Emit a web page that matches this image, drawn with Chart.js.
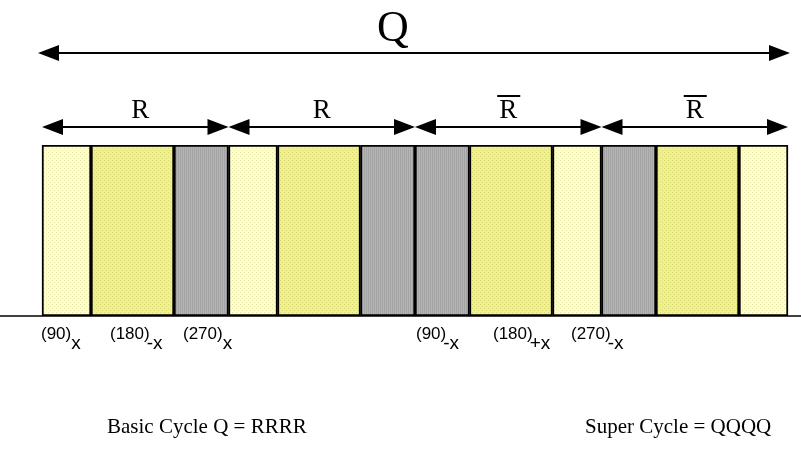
<!DOCTYPE html>
<html>
<head>
<meta charset="utf-8">
<script src="https://cdn.jsdelivr.net/npm/chart.js@4.4.0/dist/chart.umd.min.js"></script>
<style>
  html, body { margin: 0; padding: 0; background: #fff; }
  #wrap { width: 801px; height: 465px; }
</style>
</head>
<body>
<div id="wrap"><canvas id="chart"></canvas></div>
<script>
// pulse kinds and their lengths (in px-ish units)
const pulseKinds = ['90', '180', '270'];
const pulseLengths = [49, 83, 54.5];
const pulseColors = ['#ffffcc', '#f0f08c', '#b4b4b4'];

// the four blocks of the basic cycle, each a list of pulse kinds
const blockNames = ['R', 'R', 'R', 'R'];
const blockBar = [false, false, true, true];
const blockOrder = [
  ['90', '180', '270'],
  ['90', '180', '270'],
  ['270', '180', '90'],
  ['270', '180', '90'],
];

const seqStart = 42;
const axisMax = 801;
const qLabelAt = 393;

// phase labels under the blocks
const phaseLabels = [
  { kind: '90', sub: 'x' }, { kind: '180', sub: '-x' }, { kind: '270', sub: 'x' },
  { kind: '90', sub: '-x' }, { kind: '180', sub: '+x' }, { kind: '270', sub: '-x' },
];
const phaseLabelX = [41, 110, 183, 416, 493, 571];

const cycleTexts = ['Basic Cycle Q = RRRR', 'Super Cycle = QQQQ'];
const cycleTextX = [107, 585];

// build floating bars
const segments = [];
const blockSpans = [];
let t = seqStart;
blockOrder.forEach((blk) => {
  const b0 = t;
  blk.forEach((k) => {
    const i = pulseKinds.indexOf(k);
    segments.push({ kind: i, from: t, to: t + pulseLengths[i] });
    t += pulseLengths[i];
  });
  blockSpans.push([b0, t]);
});
const seqEnd = t;

function makePattern(base, dot, vertical) {
  const c = document.createElement('canvas');
  c.width = 4; c.height = 4;
  const g = c.getContext('2d');
  g.fillStyle = base; g.fillRect(0, 0, 4, 4);
  g.fillStyle = dot;
  if (vertical) { g.fillRect(0, 0, 1, 4); g.fillRect(2, 0, 1, 4); }
  else { g.fillRect(0, 0, 1, 1); g.fillRect(2, 2, 1, 1); }
  return g.createPattern(c, 'repeat');
}
const fills = [
  makePattern(pulseColors[0], '#e6e6a8', false),
  makePattern(pulseColors[1], '#dada78', false),
  makePattern(pulseColors[2], '#a4a4a4', true),
];

function arrow(ctx, x1, x2, y, head, half) {
  ctx.beginPath();
  ctx.moveTo(x1 + head - 2, y); ctx.lineTo(x2 - head + 2, y); ctx.stroke();
  ctx.beginPath();
  ctx.moveTo(x1, y); ctx.lineTo(x1 + head, y - half); ctx.lineTo(x1 + head, y + half); ctx.closePath(); ctx.fill();
  ctx.beginPath();
  ctx.moveTo(x2, y); ctx.lineTo(x2 - head, y - half); ctx.lineTo(x2 - head, y + half); ctx.closePath(); ctx.fill();
}

const decor = {
  id: 'decor',
  beforeDatasetsDraw(chart) {
    const ctx = chart.ctx, area = chart.chartArea;
    ctx.save();
    ctx.strokeStyle = '#000'; ctx.lineWidth = 1.5;
    ctx.beginPath(); ctx.moveTo(0, area.bottom); ctx.lineTo(801, area.bottom); ctx.stroke();
    ctx.restore();
  },
  afterDatasetsDraw(chart) {
    const ctx = chart.ctx, x = chart.scales.x;
    ctx.save();
    ctx.fillStyle = '#000'; ctx.strokeStyle = '#000'; ctx.lineWidth = 2;
    // Q arrow
    arrow(ctx, x.getPixelForValue(seqStart) - 4, x.getPixelForValue(seqEnd) + 2, 53, 21, 8);
    ctx.font = '44px "Liberation Serif", "Times New Roman", serif';
    ctx.textAlign = 'center'; ctx.textBaseline = 'alphabetic';
    ctx.fillText('Q', x.getPixelForValue(qLabelAt), 41);
    // R arrows
    ctx.font = '27px "Liberation Serif", "Times New Roman", serif';
    blockSpans.forEach((s, i) => {
      const a = x.getPixelForValue(s[0]), b = x.getPixelForValue(s[1]);
      arrow(ctx, a, b, 127, 21, 8);
      const cx = (a + b) / 2 + (i === 0 ? 5 : 0);
      ctx.fillText(blockNames[i], cx, 118);
      if (blockBar[i]) ctx.fillRect(cx - 11, 95, 23, 2);
    });
    // phase labels
    ctx.textAlign = 'left';
    phaseLabels.forEach((p, i) => {
      const lx = phaseLabelX[i];
      ctx.font = '17px "Liberation Sans", Arial, sans-serif';
      const main = '(' + p.kind + ')';
      ctx.fillText(main, lx, 339);
      const w = ctx.measureText(main).width;
      ctx.font = '19px "Liberation Sans", Arial, sans-serif';
      ctx.fillText(p.sub, lx + w - (p.sub.length > 1 ? 3 : 0), 349);
    });
    // cycle texts
    ctx.font = '21px "Liberation Serif", "Times New Roman", serif';
    cycleTexts.forEach((s, i) => ctx.fillText(s, cycleTextX[i], 433));
    ctx.restore();
  }
};

new Chart(document.getElementById('chart'), {
  type: 'bar',
  data: {
    labels: ['seq'],
    datasets: segments.map((s) => ({
      data: [[s.from, s.to]],
      backgroundColor: fills[s.kind],
      borderColor: '#000',
      borderWidth: 2,
      borderSkipped: false,
      categoryPercentage: 1,
      barPercentage: 1,
      grouped: false,
    })),
  },
  options: {
    indexAxis: 'y',
    responsive: true,
    maintainAspectRatio: false,
    animation: false,
    layout: { padding: { top: 145, bottom: 149, left: 0, right: 0 } },
    scales: {
      x: { type: 'linear', min: 0, max: axisMax, display: false },
      y: { display: false },
    },
    plugins: { legend: { display: false }, tooltip: { enabled: false } },
  },
  plugins: [decor],
});
</script>
</body>
</html>
